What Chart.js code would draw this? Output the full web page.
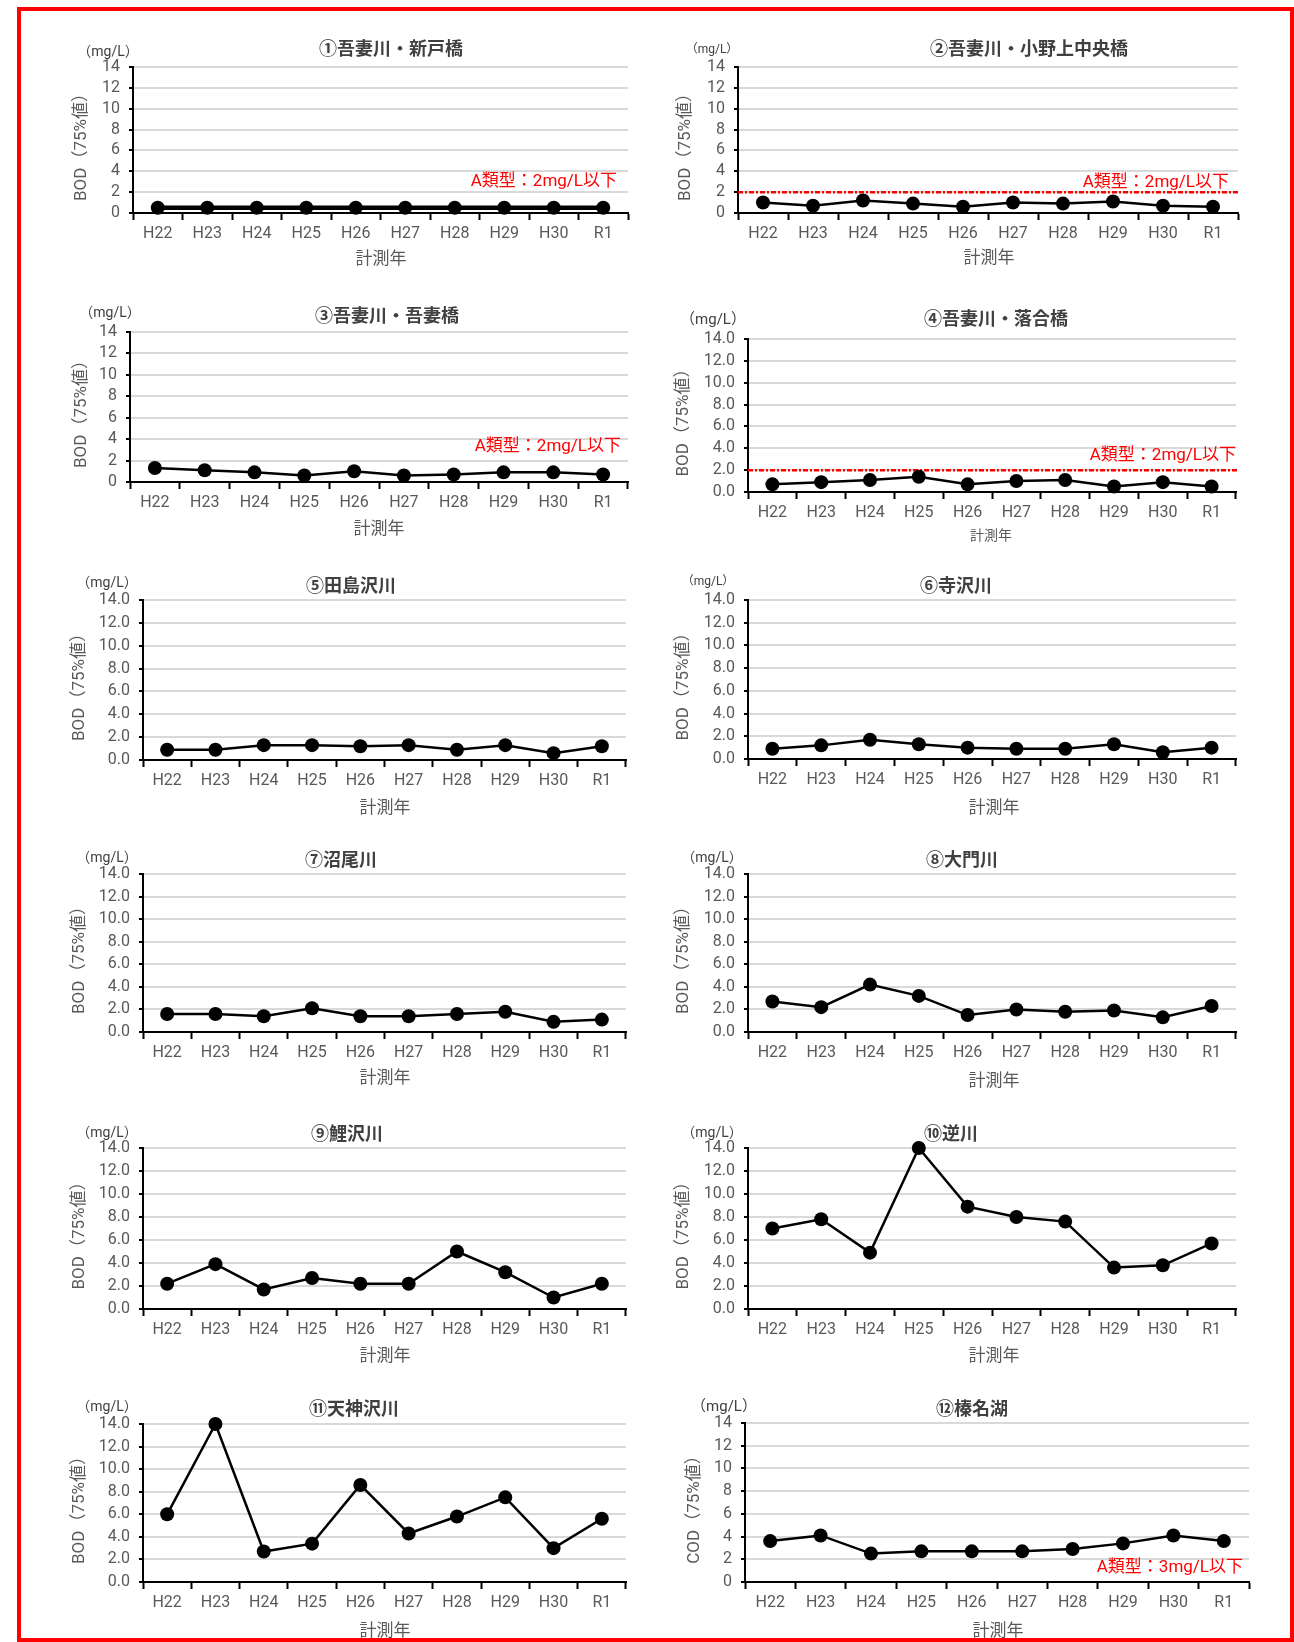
<!DOCTYPE html>
<html>
<head>
<meta charset="utf-8">
<script src="https://cdn.jsdelivr.net/npm/chart.js@4.4.1/dist/chart.umd.min.js"></script>
<style>
  body { margin: 0; background: #fff; width: 1294px; height: 1642px; position: relative; overflow: hidden; }
  .frame { position: absolute; left: 17px; top: 7px; width: 1277px; height: 1635px; border: 4px solid #ff0000; box-sizing: border-box; }
  canvas { position: absolute; }
</style>
</head>
<body>
<div class="frame"></div>
<script>
// data
const years = ['H22', 'H23', 'H24', 'H25', 'H26', 'H27', 'H28', 'H29', 'H30', 'R1'];
const yTickValues = [0, 2, 4, 6, 8, 10, 12, 14];

const bod01 = [0.5, 0.5, 0.5, 0.5, 0.5, 0.5, 0.5, 0.5, 0.5, 0.5];
const bod02 = [1.0, 0.7, 1.2, 0.9, 0.6, 1.0, 0.9, 1.1, 0.7, 0.6];
const bod03 = [1.3, 1.1, 0.9, 0.6, 1.0, 0.6, 0.7, 0.9, 0.9, 0.7];
const bod04 = [0.7, 0.9, 1.1, 1.4, 0.7, 1.0, 1.1, 0.5, 0.9, 0.5];
const bod05 = [0.9, 0.9, 1.3, 1.3, 1.2, 1.3, 0.9, 1.3, 0.6, 1.2];
const bod06 = [0.9, 1.2, 1.7, 1.3, 1.0, 0.9, 0.9, 1.3, 0.6, 1.0];
const bod07 = [1.6, 1.6, 1.4, 2.1, 1.4, 1.4, 1.6, 1.8, 0.9, 1.1];
const bod08 = [2.7, 2.2, 4.2, 3.2, 1.5, 2.0, 1.8, 1.9, 1.3, 2.3];
const bod09 = [2.2, 3.9, 1.7, 2.7, 2.2, 2.2, 5.0, 3.2, 1.0, 2.2];
const bod10 = [7.0, 7.8, 4.9, 14.0, 8.9, 8.0, 7.6, 3.6, 3.8, 5.7];
const bod11 = [6.0, 14.0, 2.7, 3.4, 8.6, 4.3, 5.8, 7.5, 3.0, 5.6];
const cod12 = [3.6, 4.1, 2.5, 2.7, 2.7, 2.7, 2.9, 3.4, 4.1, 3.6];

const titles = ['①吾妻川・新戸橋', '②吾妻川・小野上中央橋', '③吾妻川・吾妻橋', '④吾妻川・落合橋',
  '⑤田島沢川', '⑥寺沢川', '⑦沼尾川', '⑧大門川', '⑨鯉沢川', '⑩逆川', '⑪天神沢川', '⑫榛名湖'];

const standardBOD = 2;
const noteBOD = 'A類型：2mg/L以下';
const noteCOD = 'A類型：3mg/L以下';
const unitText = '（mg/L）';
const xTitle = '計測年';
const yTitleBOD = 'BOD（75%値）';
const yTitleCOD = 'COD（75%値）';

const LATIN = "Roboto, 'Noto Sans CJK JP', sans-serif";
const JP = "'Noto Sans CJK JP', sans-serif";

// layout of each panel (page pixels)
const panels = [
  { data: bod01, l: 133, t: 67,   r: 628,  b: 213,  tx: 391, ty: 48,   ux: 108, uy: 52,   us: 14, yx: 82,  xx: 381, xy: 258,  xs: 17, note: [617, 182],   line: false, dec: 0, lw: 4.5 },
  { data: bod02, l: 738, t: 67,   r: 1238, b: 213,  tx: 1029, ty: 48,  ux: 712, uy: 50,   us: 12, yx: 686, xx: 989, xy: 257,  xs: 17, note: [1229, 183],  line: true,  dec: 0, lw: 2.5 },
  { data: bod03, l: 130, t: 332,  r: 628,  b: 482,  tx: 387, ty: 315,  ux: 110, uy: 313,  us: 14, yx: 82,  xx: 379, xy: 528,  xs: 17, note: [621, 447],   line: false, dec: 0, lw: 2.5 },
  { data: bod04, l: 748, t: 339,  r: 1236, b: 492,  tx: 996, ty: 318,  ux: 713, uy: 320,  us: 15, yx: 684, xx: 991, xy: 535,  xs: 14, note: [1236, 456],  line: true,  dec: 1, lw: 2.5 },
  { data: bod05, l: 143, t: 600,  r: 626,  b: 760,  tx: 351, ty: 585,  ux: 107, uy: 583,  us: 14, yx: 80,  xx: 385, xy: 807,  xs: 17, note: null,         line: false, dec: 1, lw: 2.5 },
  { data: bod06, l: 748, t: 600,  r: 1236, b: 759,  tx: 956, ty: 585,  ux: 708, uy: 582,  us: 12, yx: 684, xx: 994, xy: 807,  xs: 17, note: null,         line: false, dec: 1, lw: 2.5 },
  { data: bod07, l: 143, t: 874,  r: 626,  b: 1032, tx: 341, ty: 859,  ux: 107, uy: 858,  us: 14, yx: 80,  xx: 385, xy: 1077, xs: 17, note: null,         line: false, dec: 1, lw: 2.5 },
  { data: bod08, l: 748, t: 874,  r: 1236, b: 1032, tx: 962, ty: 859,  ux: 712, uy: 858,  us: 14, yx: 684, xx: 994, xy: 1080, xs: 17, note: null,         line: false, dec: 1, lw: 2.5 },
  { data: bod09, l: 143, t: 1148, r: 626,  b: 1309, tx: 347, ty: 1133, ux: 107, uy: 1133, us: 14, yx: 80,  xx: 385, xy: 1355, xs: 17, note: null,         line: false, dec: 1, lw: 2.5 },
  { data: bod10, l: 748, t: 1148, r: 1236, b: 1309, tx: 951, ty: 1133, ux: 712, uy: 1133, us: 14, yx: 684, xx: 994, xy: 1355, xs: 17, note: null,         line: false, dec: 1, lw: 2.5 },
  { data: bod11, l: 143, t: 1424, r: 626,  b: 1582, tx: 354, ty: 1408, ux: 107, uy: 1407, us: 14, yx: 80,  xx: 385, xy: 1630, xs: 17, note: null,         line: false, dec: 1, lw: 2.5 },
  { data: cod12, l: 745, t: 1423, r: 1249, b: 1582, tx: 972, ty: 1408, ux: 724, uy: 1407, us: 15, yx: 695, xx: 998, xy: 1630, xs: 17, note: [1243, 1568], line: false, dec: 0, lw: 2.5, cod: true }
];

const PAD_L = 90, PAD_T = 50, PAD_R = 15, PAD_B = 65;

const annot = {
  id: 'annot',
  beforeDatasetsDraw(chart, args, o) {
    if (!o.p.line) return;
    const ctx = chart.ctx, a = chart.chartArea;
    const y = chart.scales.y.getPixelForValue(standardBOD);
    ctx.save();
    ctx.strokeStyle = '#ff0000';
    ctx.lineWidth = 2.5;
    ctx.setLineDash([5, 2, 2, 2]);
    ctx.beginPath();
    ctx.moveTo(a.left, y);
    ctx.lineTo(a.right + 2, y);
    ctx.stroke();
    ctx.restore();
  },
  afterDraw(chart, args, o) {
    const p = o.p, ctx = chart.ctx;
    const ox = p.l - PAD_L, oy = p.t - PAD_T;
    ctx.save();
    ctx.textBaseline = 'middle';
    // title
    ctx.textAlign = 'center';
    ctx.fillStyle = '#404040';
    ctx.font = 'bold 18px ' + JP;
    ctx.fillText(o.title, p.tx - ox, p.ty - oy);
    // unit
    ctx.font = p.us + 'px ' + LATIN;
    ctx.fillText(unitText, p.ux - ox, p.uy - oy);
    // x title
    ctx.fillStyle = '#595959';
    ctx.font = p.xs + 'px ' + JP;
    ctx.fillText(xTitle, p.xx - ox, p.xy - oy);
    // y title
    ctx.save();
    ctx.translate(p.yx - ox, (p.t + p.b) / 2 + 3 - oy);
    ctx.rotate(-Math.PI / 2);
    ctx.font = '17px ' + LATIN;
    ctx.fillText(p.cod ? yTitleCOD : yTitleBOD, 0, 0);
    ctx.restore();
    // standard note
    if (p.note) {
      ctx.textAlign = 'right';
      ctx.fillStyle = '#ff0000';
      ctx.font = '17px ' + LATIN;
      ctx.fillText(p.cod ? noteCOD : noteBOD, p.note[0] - ox, p.note[1] - oy);
    }
    ctx.restore();
  }
};

panels.forEach((p, i) => {
  const cv = document.createElement('canvas');
  const w = (p.r - p.l) + PAD_L + PAD_R;
  const h = (p.b - p.t) + PAD_T + PAD_B;
  cv.width = w;
  cv.height = h;
  cv.style.left = (p.l - PAD_L) + 'px';
  cv.style.top = (p.t - PAD_T) + 'px';
  cv.style.width = w + 'px';
  cv.style.height = h + 'px';
  document.body.appendChild(cv);

  new Chart(cv.getContext('2d'), {
    type: 'line',
    data: {
      labels: years,
      datasets: [{
        data: p.data,
        borderColor: '#000',
        backgroundColor: '#000',
        borderWidth: p.lw,
        pointRadius: 7,
        pointHoverRadius: 7,
        pointBackgroundColor: '#000',
        pointBorderWidth: 0,
        tension: 0,
        clip: false
      }]
    },
    options: {
      responsive: false,
      animation: false,
      events: [],
      layout: { padding: { left: 0, top: PAD_T, right: PAD_R, bottom: 0 } },
      plugins: {
        legend: { display: false },
        tooltip: { enabled: false },
        title: { display: false },
        annot: { p: p, title: titles[i] }
      },
      scales: {
        x: {
          type: 'category',
          offset: true,
          grid: { display: true, drawOnChartArea: false, offset: true, tickLength: 7, tickWidth: 2, tickColor: '#000' },
          border: { display: true, color: '#000', width: 2 },
          ticks: { color: '#595959', font: { family: LATIN, size: 16 }, padding: 4, maxRotation: 0, autoSkip: false },
          afterFit: s => { s.height = PAD_B; }
        },
        y: {
          min: 0,
          max: 14,
          afterBuildTicks: s => { s.ticks = yTickValues.map(v => ({ value: v })); },
          grid: { color: '#d9d9d9', lineWidth: 2, tickLength: 4, tickWidth: 2, tickColor: '#000' },
          border: { display: true, color: '#000', width: 2 },
          ticks: { color: '#595959', font: { family: LATIN, size: 16 }, padding: 9, autoSkip: false, callback: v => Number(v).toFixed(p.dec) },
          afterFit: s => { s.width = PAD_L; }
        }
      }
    },
    plugins: [annot]
  });
});
</script>
</body>
</html>
